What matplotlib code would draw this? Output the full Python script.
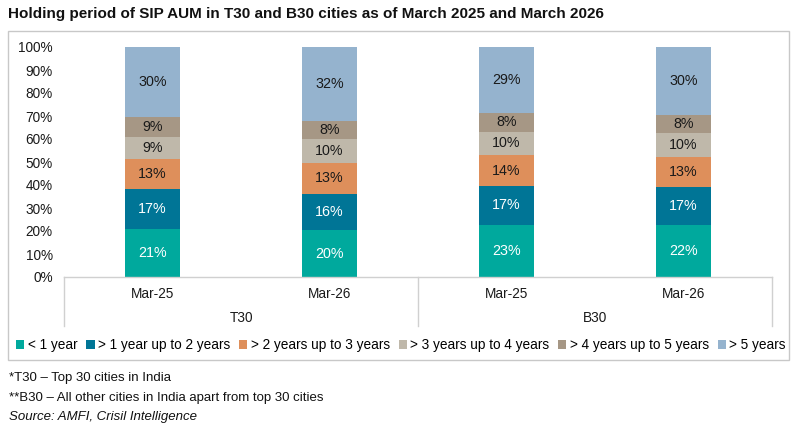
import matplotlib
matplotlib.use("Agg")
import matplotlib.pyplot as plt
from matplotlib.patches import Rectangle
from matplotlib.lines import Line2D
import numpy as np

plt.rcParams['font.family'] = ['Liberation Sans', 'DejaVu Sans']

title = "Holding period of SIP AUM in T30 and B30 cities as of March 2025 and March 2026"
groups = ["T30", "B30"]
periods = ["Mar-25", "Mar-26", "Mar-25", "Mar-26"]
series = ["< 1 year", "> 1 year up to 2 years", "> 2 years up to 3 years",
          "> 3 years up to 4 years", "> 4 years up to 5 years", "> 5 years"]
lt1 = [21.0, 20.4, 22.8, 22.4]
y1_2 = [17.3, 15.8, 16.6, 16.6]
y2_3 = [13.0, 13.4, 13.8, 13.1]
y3_4 = [9.4, 10.4, 10.0, 10.4]
y4_5 = [9.0, 7.8, 8.2, 7.8]
gt5 = [30.3, 32.2, 28.6, 29.7]
values = [lt1, y1_2, y2_3, y3_4, y4_5, gt5]
colors = ["#00A99D", "#007596", "#DE8F5B", "#BFB8AA", "#A69785", "#95B3CE"]
text_colors = ["white", "white", "#1a1a1a", "#1a1a1a", "#1a1a1a", "#1a1a1a"]
footnotes = ["*T30 \u2013 Top 30 cities in India",
             "**B30 \u2013 All other cities in India apart from top 30 cities"]
source = "Source: AMFI, Crisil Intelligence"

W, H = 800, 430
fig = plt.figure(figsize=(W / 100, H / 100), dpi=100)

def fx(px):
    return px / W

def fy(py):
    return 1 - py / H

ax = fig.add_axes([fx(64), fy(277), fx(772) - fx(64), fy(47) - fy(277)])
x = np.arange(len(periods))
bottom = np.zeros(len(periods))
for vals, c, tc in zip(values, colors, text_colors):
    vals = np.array(vals)
    ax.bar(x, vals, bottom=bottom, width=0.316, color=c, edgecolor='none', zorder=2)
    for xi, b, v in zip(x, bottom, vals):
        ax.text(xi, b + v / 2, f"{round(v):d}%", ha='center', va='center',
                color=tc, fontsize=10.3)
    bottom += vals

ax.set_xlim(-0.5, 3.5)
ax.set_ylim(0, 100)
ax.set_yticks(np.arange(0, 101, 10))
ax.set_yticklabels([f"{v}%" for v in range(0, 101, 10)], fontsize=9.8, color='#1a1a1a')
ax.tick_params(axis='y', length=0, pad=8)
ax.set_xticks([])
for s in ['top', 'right', 'left']:
    ax.spines[s].set_visible(False)
ax.spines['bottom'].set_color('#D0D0D0')
ax.spines['bottom'].set_linewidth(1)

# two-level category axis
trans = ax.get_xaxis_transform()
box_bottom = (fy(326) - fy(277)) / (fy(47) - fy(277))
for xv in [-0.5, 1.5, 3.5]:
    ax.add_line(Line2D([xv, xv], [0, box_bottom], transform=trans, color='#D0D0D0',
                       lw=1, clip_on=False))
lab_y = (fy(294) - fy(277)) / (fy(47) - fy(277))
grp_y = (fy(318) - fy(277)) / (fy(47) - fy(277))
for xi, p in zip(x, periods):
    ax.text(xi, lab_y, p, transform=trans, ha='center', va='center', fontsize=9.8,
            color='#1a1a1a')
for gi, g in enumerate(groups):
    ax.text(gi * 2 + 0.5, grp_y, g, transform=trans, ha='center', va='center',
            fontsize=9.8, color='#1a1a1a')

# outer border
fig.patches.append(Rectangle((fx(8), fy(360)), fx(789) - fx(8), fy(30.5) - fy(360),
                             transform=fig.transFigure, fill=False,
                             edgecolor='#C8C8C8', lw=1))

# legend
handles = [Rectangle((0, 0), 1, 1, facecolor=c, edgecolor='none') for c in colors]
fig.legend(handles, series, loc='center', bbox_to_anchor=(fx(401), fy(345)),
           ncol=6, frameon=False, fontsize=9.8, handlelength=0.6, handleheight=0.6,
           handletextpad=0.25, columnspacing=0.65, borderaxespad=0)

fig.text(fx(8), fy(14), title, fontsize=11, fontweight='bold', ha='left', va='center',
         color='#111111')
fig.text(fx(9), fy(378), footnotes[0], fontsize=9.5, ha='left', va='center', color='#111111')
fig.text(fx(9), fy(398), footnotes[1], fontsize=9.5, ha='left', va='center', color='#111111')
fig.text(fx(9), fy(417), source, fontsize=9.5, ha='left', va='center', style='italic',
         color='#111111')

fig.savefig("out.png", dpi=100)
